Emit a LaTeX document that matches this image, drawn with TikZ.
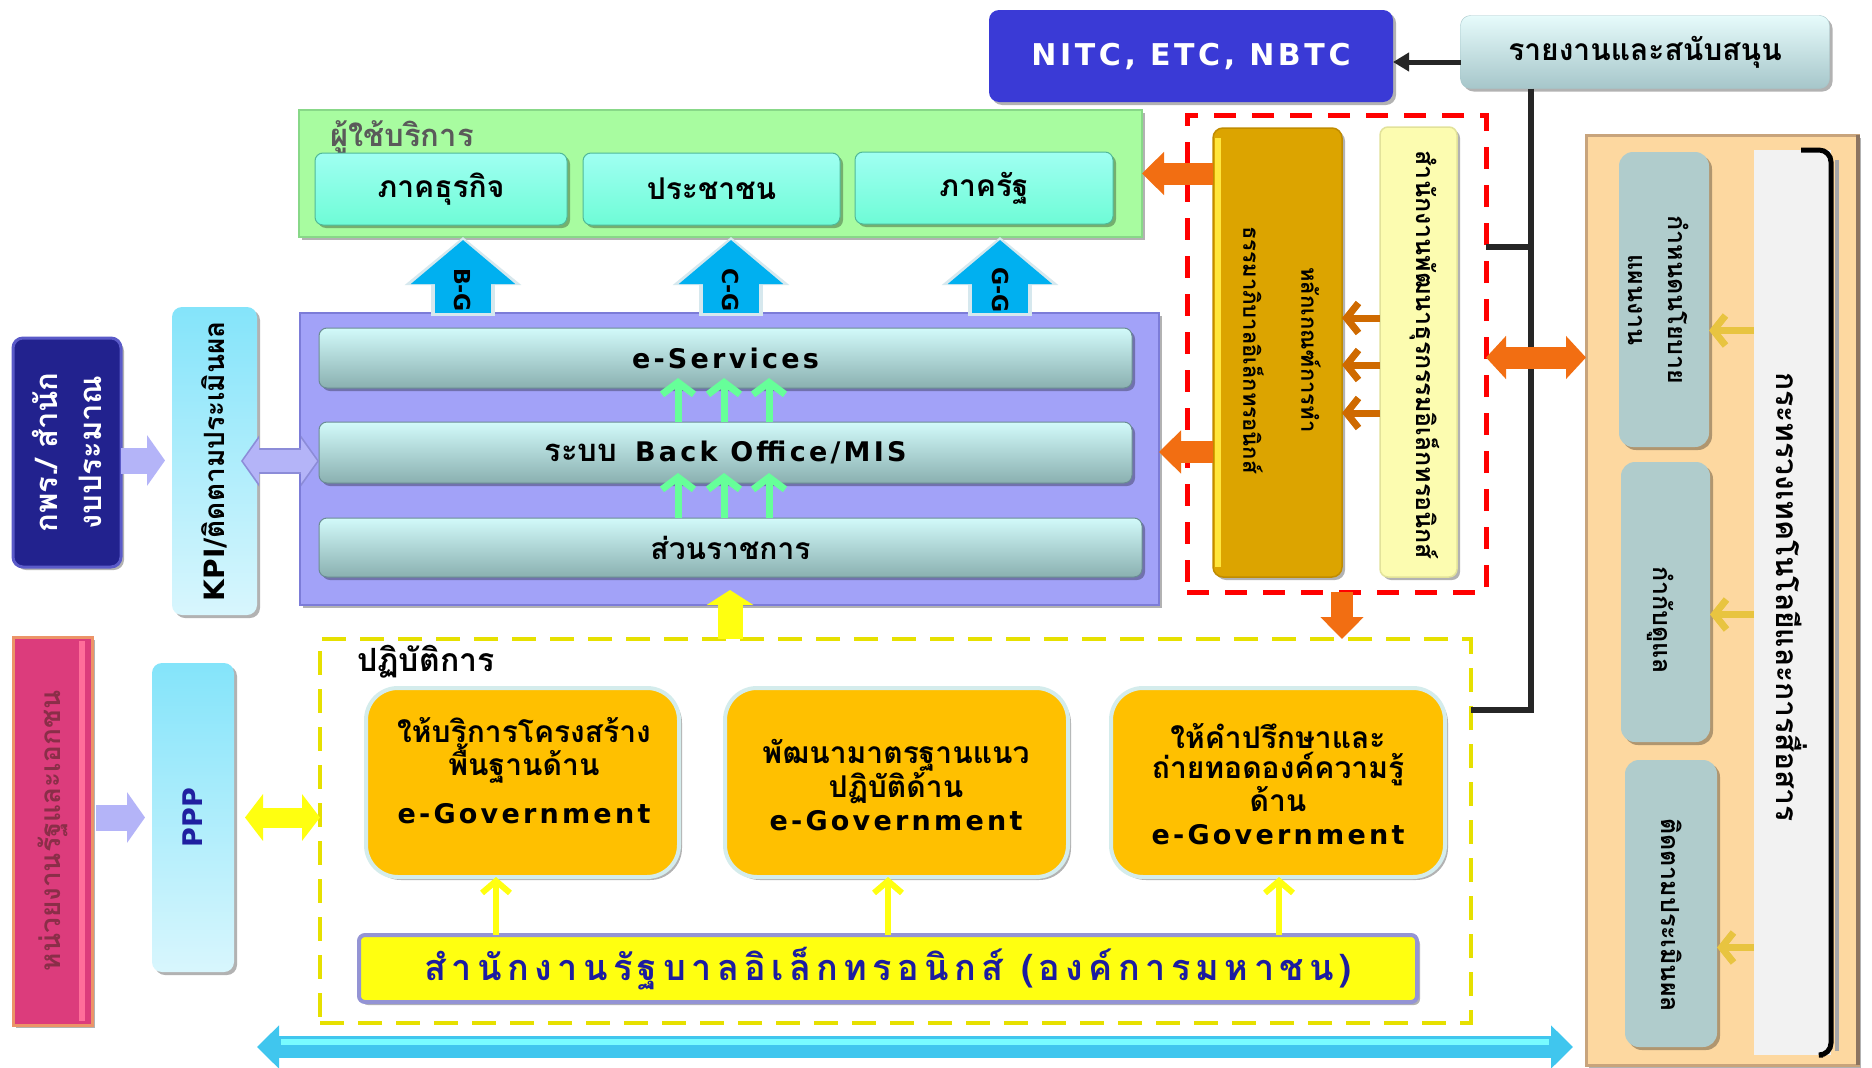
\documentclass[tikz,border=0pt]{standalone}
\usepackage{fontspec}
\setmainfont{DejaVu Sans}
\newfontfamily\thaif[Script=Thai]{Loma}
\newfontfamily\thaisp[Script=Thai,LetterSpace=15]{Loma}
\newfontfamily\latf[LetterSpace=12]{DejaVu Sans}
\usetikzlibrary{arrows.meta,shadows,calc}
\newcommand\fsz[2]{\fontsize{#1}{#2}\selectfont}
\definecolor{nitcC}{HTML}{3A3AD6}
\definecolor{repT}{HTML}{E6FBFB}
\definecolor{repB}{HTML}{A6C6CA}
\definecolor{greenC}{HTML}{A8FCA0}
\definecolor{greenD}{HTML}{88D888}
\definecolor{aquaC}{HTML}{6EFCD6}
\definecolor{aquaT}{HTML}{A0FFF2}
\definecolor{aquaD}{HTML}{50B898}
\definecolor{blueA}{HTML}{00B0F0}
\definecolor{blueO}{HTML}{D6E8EE}
\definecolor{purC}{HTML}{A2A2F8}
\definecolor{purD}{HTML}{7C7CD8}
\definecolor{barT}{HTML}{D2FAFA}
\definecolor{barB}{HTML}{8AB0B0}
\definecolor{barD}{HTML}{6A8C94}
\definecolor{mint}{HTML}{66FF99}
\definecolor{kpiT}{HTML}{84E4FA}
\definecolor{kpiB}{HTML}{D8F6FD}
\definecolor{navy}{HTML}{22228E}
\definecolor{navyL}{HTML}{5A5AC8}
\definecolor{lav}{HTML}{B4B4F8}
\definecolor{lavD}{HTML}{8C8CD8}
\definecolor{pinkC}{HTML}{DC3C7C}
\definecolor{pinkL}{HTML}{FF6E9A}
\definecolor{pinkE}{HTML}{EC9468}
\definecolor{pinkT}{HTML}{8A2E48}
\definecolor{pppT}{HTML}{2020A0}
\definecolor{yel}{HTML}{FFFF10}
\definecolor{dashY}{HTML}{E6E000}
\definecolor{orgC}{HTML}{FFC000}
\definecolor{orgE}{HTML}{D4ECEC}
\definecolor{barE}{HTML}{9494D4}
\definecolor{egT}{HTML}{1C1CA0}
\definecolor{cyanA}{HTML}{40C6EE}
\definecolor{cyanL}{HTML}{78FCFF}
\definecolor{redD}{HTML}{FF0000}
\definecolor{goldC}{HTML}{DCA400}
\definecolor{goldE}{HTML}{C08C00}
\definecolor{goldL}{HTML}{FFE63C}
\definecolor{lyC}{HTML}{FCFCB0}
\definecolor{lyE}{HTML}{E2E29A}
\definecolor{chevO}{HTML}{CF6A00}
\definecolor{orA}{HTML}{F26E12}
\definecolor{beigeC}{HTML}{FDD8A0}
\definecolor{beigeE}{HTML}{C8A47C}
\definecolor{beigeD}{HTML}{8C7460}
\definecolor{tealC}{HTML}{B0CCCC}
\definecolor{wbC}{HTML}{F2F2F2}
\definecolor{chevY}{HTML}{E8C440}
\definecolor{blk}{HTML}{262626}
\definecolor{grayT}{HTML}{5A5A5A}
\tikzset{
 bx/.style={inner sep=0pt, outer sep=0pt},
 shd/.style={drop shadow={shadow xshift=3pt,shadow yshift=-3pt,opacity=.3,fill=black}},
 txt/.style={inner sep=0pt, align=center},
 thb/.style={txt, font=\thaif\bfseries\fsz{30}{30}},
 aq/.style={bx, shd, top color=aquaT, bottom color=aquaC, draw=aquaD, line width=1pt, rounded corners=8pt, minimum height=72pt, font=\thaif\bfseries\fsz{30}{30}},
 barbox/.style={bx, shd, top color=barT, bottom color=barB, draw=barD, line width=1pt, rounded corners=8pt},
 ob/.style={bx, shd, fill=orgC, draw=orgE, line width=4pt, rounded corners=32pt, minimum height=189pt},
 tl/.style={bx, shd, fill=tealC, rounded corners=14pt},
 bluearr/.style={color=blueA, line width=56pt, -{Triangle[width=102pt,length=44pt]}},
 blueout/.style={color=blueO, line width=64pt, -{Triangle[width=114pt,length=48pt]}},
 mintarr/.style={color=mint, line width=7pt, -{Straight Barb[length=12pt,width=32pt]}},
 lavarr/.style={color=lav, line width=26pt, -{Triangle[width=50pt,length=18pt]}},
 lavdbl/.style={color=lav, line width=22pt, {Triangle[width=44pt,length=16pt]}-{Triangle[width=44pt,length=16pt]}},
 lavdblo/.style={color=lavD, line width=26pt, {Triangle[width=50pt,length=18pt]}-{Triangle[width=50pt,length=18pt]}},
 yeldbl/.style={color=yel, line width=20pt, {Triangle[width=46pt,length=18pt]}-{Triangle[width=46pt,length=18pt]}},
 ybig/.style={color=yel, line width=25pt, -{Triangle[width=46pt,length=15pt]}},
 ythin/.style={color=yel, line width=6pt, -{Straight Barb[length=12pt,width=28pt]}},
 cyandbl/.style={color=cyanA, line width=22pt, {Triangle[width=42pt,length=22pt]}-{Triangle[width=42pt,length=22pt]}},
 orarr/.style={color=orA, line width=22pt, -{Triangle[width=42pt,length=22pt]}},
 ordbl/.style={color=orA, line width=22pt, {Triangle[width=42pt,length=20pt]}-{Triangle[width=42pt,length=20pt]}},
 ochev/.style={color=chevO, line width=7pt, -{Straight Barb[length=12pt,width=30pt]}},
 ychev/.style={color=chevY, line width=7pt, -{Straight Barb[length=12pt,width=30pt]}},
 blkline/.style={color=blk, line width=6pt},
}
\begin{document}
\begin{tikzpicture}[x=1pt,y=-1pt]
\fill[white] (0,0) rectangle (1872,1068);
\useasboundingbox (0,0) rectangle (1872,1068);

% top
\node[bx, shd, fill=nitcC, rounded corners=10pt, minimum width=404pt, minimum height=92pt, text=white, font=\latf\bfseries\fsz{30}{32}] (nitc) at (1191,56) {NITC, ETC, NBTC};
\node[bx, shd, top color=repT, bottom color=repB, draw=repB, rounded corners=10pt, minimum width=369pt, minimum height=73pt, font=\thaif\bfseries\fsz{30}{30}] (rep) at (1645,52) {รายงานและสนับสนุน};

% users
\node[bx, shd, fill=greenC, draw=greenD, line width=2pt, minimum width=843pt, minimum height=127pt] (users) at (720.5,173.5) {};
\node[txt, anchor=west, text=grayT, font=\thaif\bfseries\fsz{31}{31}] (usersl) at (330,137) {ผู้ใช้บริการ};
\node[aq, minimum width=252pt] (biz) at (441,189) {ภาคธุรกิจ};
\node[aq, minimum width=257pt] (cit) at (711.5,189) {ประชาชน};
\node[aq, minimum width=258pt] (gov) at (984,188) {ภาครัฐ};

% purple block
\node[bx, shd, fill=purC, draw=purD, line width=2pt, minimum width=859pt, minimum height=292pt] (pur) at (729.5,459) {};
\node[barbox, minimum width=813pt, minimum height=60pt, font=\latf\bfseries\fsz{27}{30}] (es) at (725.5,358) {e-Services};
\node[barbox, minimum width=813pt, minimum height=61pt, font=\bfseries\fsz{27}{30}] (bo) at (725.5,452.5) {{\thaif\fsz{31}{30}ระบบ}\hspace{18pt}{\latf Back Office/MIS}};
\node[barbox, minimum width=823pt, minimum height=59pt, font=\thaif\bfseries\fsz{30}{30}] (sr) at (730.5,547.5) {ส่วนราชการ};

% left column
\node[bx, shd, top color=kpiT, bottom color=kpiB, rounded corners=10pt, minimum width=85pt, minimum height=308pt] (kpi) at (214.5,461) {};
\node[txt, rotate=90, font=\bfseries\fsz{28}{30}] (kpit) at (kpi) {KPI/{\thaif ติดตามประเมินผล}};
\node[bx, shd, fill=navy, draw=navyL, line width=3pt, rounded corners=10pt, minimum width=108pt, minimum height=229pt] (kpr) at (67,452.5) {};
\node[txt, rotate=90, text=white, font=\thaif\bfseries\fsz{31}{44}] (kprt) at (kpr) {กพร./ สำนัก\\งบประมาณ};
\node[bx, shd, fill=pinkC, draw=pinkE, line width=3pt, minimum width=79pt, minimum height=388pt] (agen) at (52.5,831) {};
\draw[line width=6pt, color=pinkL] ([xshift=-10pt,yshift=-4pt]agen.north east) -- ([xshift=-10pt,yshift=4pt]agen.south east);
\node[txt, rotate=90, text=pinkT, font=\thaif\bfseries\fsz{28}{30}] (agent) at (agen) {หน่วยงานรัฐและเอกชน};
\node[bx, shd, top color=kpiT, bottom color=kpiB, rounded corners=10pt, minimum width=82pt, minimum height=309pt] (ppp) at (193,817.5) {};
\node[txt, rotate=90, text=pppT, font=\bfseries\fsz{27}{30}] (pppt) at (ppp) {PPP};

% operations
\node[bx, draw=dashY, line width=4pt, dash pattern=on 24pt off 14pt, minimum width=1151pt, minimum height=384pt] (ops) at (895.5,831) {};
\node[txt, anchor=west, font=\thaif\bfseries\fsz{32}{32}] (opsl) at (357,662) {ปฏิบัติการ};
\node[ob, minimum width=313pt] (ob1) at (522.5,782.5) {};
\node[ob, minimum width=343pt] (ob2) at (896.5,782.5) {};
\node[ob, minimum width=334pt] (ob3) at (1278,782.5) {};
\node[thb] (ob1t) at (524,771) {ให้บริการโครงสร้าง\\พื้นฐานด้าน\\[18pt]{\latf\fsz{27}{30}e-Government}};
\node[thb] (ob2t) at (896,785) {พัฒนามาตรฐานแนว\\ปฏิบัติด้าน\\[3pt]{\latf\fsz{27}{30}e-Government}};
\node[thb] (ob3t) at (1278,784) {ให้คำปรึกษาและ\\ถ่ายทอดองค์ความรู้\\ด้าน\\[3pt]{\latf\fsz{27}{30}e-Government}};
\node[bx, shd, fill=yel, draw=barE, line width=4pt, rounded corners=6pt, minimum width=1058pt, minimum height=67pt, text=egT, font=\thaisp\bfseries\fsz{36}{38}] (eg) at (888,968.5) {สำนักงานรัฐบาลอิเล็กทรอนิกส์ (องค์การมหาชน)};

% right group
\node[bx, draw=redD, line width=5pt, dash pattern=on 22pt off 16pt, minimum width=299pt, minimum height=477pt] (rdbox) at (1336.5,353.5) {};
\node[bx, shd, fill=goldC, draw=goldE, line width=1.5pt, rounded corners=10pt, minimum width=129pt, minimum height=449pt] (gold) at (1277.5,352.5) {};
\draw[goldL, line width=6pt] ([xshift=5pt,yshift=-10pt]gold.north west) -- ([xshift=5pt,yshift=10pt]gold.south west);
\node[txt, rotate=-90, font=\thaif\bfseries\fsz{22}{58}] (goldt) at (1282,350) {หลักเกณฑ์การทำ\\ธรรมาภิบาลอิเล็กทรอนิกส์};
\node[bx, shd, fill=lyC, draw=lyE, line width=1.5pt, rounded corners=8pt, minimum width=77pt, minimum height=450pt] (lyb) at (1418.5,352) {};
\node[txt, rotate=-90, font=\thaif\bfseries\fsz{25}{30}] (lybt) at (1425,355) {สำนักงานพัฒนาธุรกรรมอิเล็กทรอนิกส์};

\node[bx, shd, fill=beigeC, draw=beigeE, line width=3pt, minimum width=272pt, minimum height=930pt] (bg) at (1722,600) {};
\draw[color=beigeD, line width=4pt] (bg.north east) -- (bg.south east);
\node[tl, minimum width=90pt, minimum height=295pt] (tb1) at (1664,299.5) {};
\node[tl, minimum width=89pt, minimum height=280pt] (tb2) at (1665.5,602) {};
\node[tl, minimum width=92pt, minimum height=287pt] (tb3) at (1671,903.5) {};
\node[txt, rotate=-90, font=\thaif\bfseries\fsz{25}{40}] (tb1t) at (1659,300) {กำหนดนโยบาย\\แผนงาน};
\node[txt, rotate=-90, font=\thaif\bfseries\fsz{25}{30}] (tb2t) at (1661,620) {กำกับดูแล};
\node[txt, rotate=-90, font=\thaif\bfseries\fsz{25}{30}] (tb3t) at (1672,915) {ติดตามประเมินผล};
\node[bx, fill=wbC, minimum width=77pt, minimum height=905pt] (wb) at (1792.5,602.5) {};
\draw[gray!70, line width=4pt] ([xshift=6pt,yshift=-10pt]wb.north east) -- ([xshift=6pt,yshift=4pt]wb.south east);
\draw[black, line width=5pt, rounded corners=12pt] ([xshift=-30pt]wb.north east) -- (wb.north east) -- (wb.south east) -- ([xshift=-8pt]wb.south east);
\node[txt, rotate=-90, font=\thaif\bfseries\fsz{30}{34}] (wbt) at (1792,597) {กระทรวงเทคโนโลยีและการสื่อสาร};

% connectors
\draw[color=blk, line width=5pt, -{Triangle[width=18pt,length=16pt]}] ([yshift=-10pt]rep.west) -- ([yshift=-10pt]rep.west -| nitc.east);
\coordinate (brx) at (1531,0);
\coordinate (brb) at (1531,710);
\coordinate (brm) at (1531,247);
\draw[blkline, line join=miter] (rep.south -| brx) -- (brb) -- (brb -| ops.east);
\draw[blkline] (brm) -- (brm -| rdbox.east);

\coordinate (bgx) at (463,0);
\coordinate (cgx) at (731,0);
\coordinate (ggx) at (1000,0);
\foreach \c in {bgx,cgx,ggx}{
  \draw[blueout] ([yshift=-3pt]pur.north -| \c) -- (users.south -| \c);
  \draw[bluearr] (pur.north -| \c) -- ([yshift=-3pt]users.south -| \c);
}
\node[txt, rotate=-90, font=\bfseries\fsz{22}{24}] (bgt) at (463,290) {B-G};
\node[txt, rotate=-90, font=\bfseries\fsz{22}{24}] (cgt) at (731,290) {C-G};
\node[txt, rotate=-90, font=\bfseries\fsz{22}{24}] (ggt) at (1000,290) {G-G};

\coordinate (g1) at (678,0);
\coordinate (g2) at (724,0);
\coordinate (g3) at (769,0);
\foreach \g in {g1,g2,g3}{
  \draw[mintarr] (bo.north -| \g) -- ([yshift=10pt]es.south -| \g);
  \draw[mintarr] (sr.north -| \g) -- ([yshift=10pt]bo.south -| \g);
}

\draw[lavarr] ([yshift=-8pt]kpr.east) -- ([xshift=-7pt,yshift=-8pt]kpr.east -| kpi.west);
\draw[lavdblo] ([xshift=-16pt]kpi.east) -- ([xshift=19pt]kpi.east -| pur.west);
\draw[lavdbl] ([xshift=-14pt]kpi.east) -- ([xshift=17pt]kpi.east -| pur.west);
\draw[lavarr] ([xshift=4pt]agen.east |- ppp.west) -- ([xshift=-7pt]ppp.west);
\draw[yeldbl] ([xshift=11pt]ppp.east) -- (ops.west |- ppp.east);

\coordinate (ybx) at (730,0);
\draw[ybig] (ops.north -| ybx) -- ([yshift=15pt]pur.south -| ybx);

\coordinate (ya1) at (496,0);
\coordinate (ya2) at (888,0);
\coordinate (ya3) at (1279,0);
\draw[ythin] (eg.north -| ya1) -- (ob1.south -| ya1);
\draw[ythin] (eg.north -| ya2) -- (ob2.south -| ya2);
\draw[ythin] (eg.north -| ya3) -- (ob3.south -| ya3);

\coordinate (cy1) at (257,1047);
\coordinate (cy2) at (1573,1047);
\draw[cyandbl] (cy1) -- (cy2);
\draw[cyanL, line width=6pt] ([xshift=24pt,yshift=5pt]cy1) -- ([xshift=-24pt,yshift=5pt]cy2);

\draw[orarr] (gold.west |- users.east) -- (users.east);
\draw[orarr] ([yshift=7pt]gold.west |- pur.east) -- ([yshift=7pt]pur.east);
\draw[orarr] (rdbox.south -| gold.east) -- (ops.north -| gold.east);
\draw[ordbl] ([yshift=-4pt]rdbox.east) -- ([yshift=-4pt]rdbox.east -| bg.west);

\draw[ochev] ([yshift=34pt]lyb.west) -- ([yshift=34pt]lyb.west -| gold.east);
\draw[ochev] ([yshift=-13pt]lyb.west) -- ([yshift=-13pt]lyb.west -| gold.east);
\draw[ochev] ([yshift=-61pt]lyb.west) -- ([yshift=-61pt]lyb.west -| gold.east);

\draw[ychev] ([yshift=272pt]wb.west) -- ([yshift=272pt]wb.west -| tb1.east);
\draw[ychev] ([yshift=-12pt]wb.west) -- ([yshift=-12pt]wb.west -| tb2.east);
\draw[ychev] ([yshift=-345pt]wb.west) -- ([yshift=-345pt]wb.west -| tb3.east);
\end{tikzpicture}
\end{document}
